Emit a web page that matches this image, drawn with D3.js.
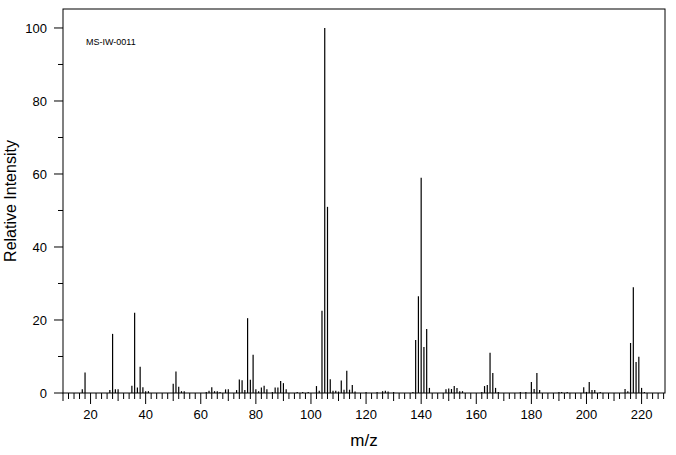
<!DOCTYPE html>
<html>
<head>
<meta charset="utf-8">
<script src="https://d3js.org/d3.v7.min.js"></script>
<style>
  body { margin: 0; background: #fff; }
  text { font-family: "Liberation Sans", "DejaVu Sans", sans-serif; fill: #000; }
</style>
</head>
<body>
<script>
// m/z values and relative intensities
var mz = [17, 18, 27, 28, 29, 30, 35, 36, 37, 38, 39, 40, 41, 50, 51, 52, 53, 54,
  62, 63, 64, 65, 66, 67, 69, 70, 73, 74, 75, 76, 77, 78, 79, 80, 81, 82, 83, 84,
  86, 87, 88, 89, 90, 91, 95, 97, 99, 102, 103, 104, 105, 106, 107, 108, 109, 110,
  111, 112, 113, 114, 115, 116, 120, 124, 126, 127, 128, 130, 137, 138, 139, 140,
  141, 142, 143, 149, 150, 151, 152, 153, 154, 155, 162, 163, 164, 165, 166, 167,
  168, 176, 178, 180, 181, 182, 183, 190, 191, 193, 199, 200, 201, 202, 203, 205,
  214, 215, 216, 217, 218, 219, 220, 221];
var intensity = [1, 5.6, 0.8, 16.2, 1, 1, 2, 22, 1.5, 7.2, 1.6, 0.5, 0.5, 2.5, 5.9, 1.7, 0.5, 0.5,
  0.3, 0.6, 1.6, 0.5, 0.5, 0.3, 1, 1, 0.8, 3.7, 3.5, 0.8, 20.5, 3.6, 10.5, 1, 0.5, 1.5, 2, 1,
  0.3, 1.5, 1.5, 3.3, 2.7, 1, 0.3, 0.3, 0.3, 1.9, 0.6, 22.5, 100, 51, 3.8, 0.6, 0.6, 0.4,
  3.4, 0.9, 6.1, 0.9, 2.2, 0.4, 0.3, 0.3, 0.5, 0.6, 0.4, 0.3, 0.3, 14.5, 26.5, 59,
  12.6, 17.5, 1.4, 1, 1.2, 1.1, 1.9, 1.4, 0.5, 0.5, 0.3, 1.9, 2.2, 11, 5.5, 1.4,
  0.3, 0.3, 0.3, 3, 1.1, 5.5, 0.8, 0.3, 0.3, 0.3, 1.6, 0.3, 3, 0.8, 0.8, 0.3,
  1.1, 0.5, 13.7, 29, 8.5, 9.9, 1.4, 0.3];
var yTicks = [0, 20, 40, 60, 80, 100];
var xTicks = [20, 40, 60, 80, 100, 120, 140, 160, 180, 200, 220];

var W = 676, H = 455;
var pLeft = 63, pRight = 665, pTop = 9, pBottom = 393;

var svg = d3.select("body").append("svg").attr("width", W).attr("height", H);

var x = d3.scaleLinear().domain([10, 228.5]).range([pLeft, pRight]);
var y = d3.scaleLinear().domain([0, 105.2]).range([pBottom, pTop]);

// frame
svg.append("rect")
  .attr("x", pLeft).attr("y", pTop)
  .attr("width", pRight - pLeft).attr("height", pBottom - pTop)
  .attr("fill", "none").attr("stroke", "#000").attr("stroke-width", 1);

// peaks
svg.selectAll("line.peak")
  .data(mz)
  .enter().append("line")
    .attr("class", "peak")
    .attr("x1", function (d) { return x(d); })
    .attr("x2", function (d) { return x(d); })
    .attr("y1", y(0))
    .attr("y2", function (d, i) { return y(intensity[i]); })
    .attr("stroke", "#000").attr("stroke-width", 1.2);

// x ticks: every 2, medium every 10, long every 20
var xMinor = d3.range(10, 229, 2);
svg.selectAll("line.xt")
  .data(xMinor)
  .enter().append("line")
    .attr("class", "xt")
    .attr("x1", function (d) { return x(d); })
    .attr("x2", function (d) { return x(d); })
    .attr("y1", pBottom)
    .attr("y2", function (d) { return pBottom + (d % 20 === 0 ? 11 : d % 10 === 0 ? 8 : 6); })
    .attr("stroke", "#000");

svg.selectAll("text.xl")
  .data(xTicks)
  .enter().append("text")
    .attr("class", "xl")
    .attr("x", function (d) { return x(d); })
    .attr("y", 419)
    .attr("text-anchor", "middle")
    .attr("font-size", 13)
    .text(function (d) { return d; });

// y ticks: every 10, labelled every 20
var yMinor = d3.range(0, 101, 10);
svg.selectAll("line.yt")
  .data(yMinor)
  .enter().append("line")
    .attr("class", "yt")
    .attr("x1", pLeft)
    .attr("x2", function (d) { return pLeft - (d % 20 === 0 ? 9 : 5); })
    .attr("y1", function (d) { return y(d); })
    .attr("y2", function (d) { return y(d); })
    .attr("stroke", "#000");

svg.selectAll("text.yl")
  .data(yTicks)
  .enter().append("text")
    .attr("class", "yl")
    .attr("x", 47)
    .attr("y", function (d) { return y(d) + 5; })
    .attr("text-anchor", "end")
    .attr("font-size", 13)
    .text(function (d) { return d; });

// titles
svg.append("text")
  .attr("x", 364).attr("y", 446)
  .attr("text-anchor", "middle")
  .attr("font-size", 17)
  .text("m/z");

svg.append("text")
  .attr("transform", "translate(16," + ((pTop + pBottom) / 2) + ") rotate(-90)")
  .attr("text-anchor", "middle")
  .attr("font-size", 16)
  .text("Relative Intensity");

svg.append("text")
  .attr("x", 86).attr("y", 45)
  .attr("font-family", "DejaVu Sans Mono, monospace")
  .attr("font-size", 9)
  .text("MS-IW-0011");
</script>
</body>
</html>
